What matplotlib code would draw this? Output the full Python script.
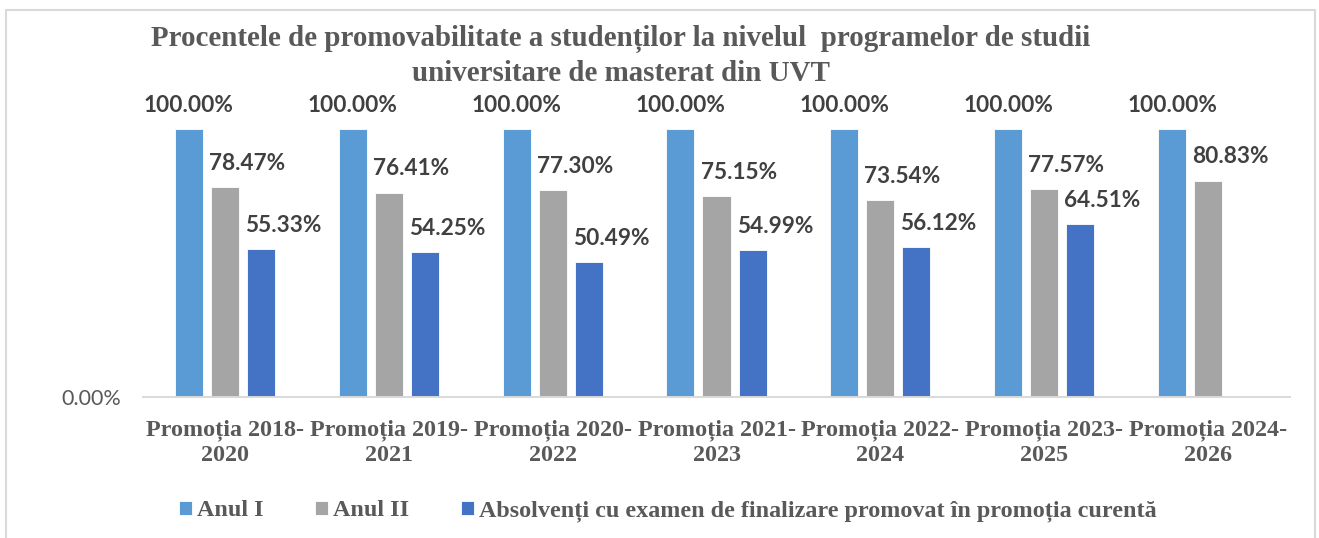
import numpy as np
import matplotlib
matplotlib.use("Agg")
import matplotlib.pyplot as plt
from matplotlib.patches import Rectangle

# ---- data ----
categories = ["Promoția 2018-\n2020", "Promoția 2019-\n2021", "Promoția 2020-\n2022",
              "Promoția 2021-\n2023", "Promoția 2022-\n2024", "Promoția 2023-\n2025",
              "Promoția 2024-\n2026"]
series_names = ["Anul I", "Anul II",
                "Absolvenți cu examen de finalizare promovat în promoția curentă"]
anul_1 = [100.00, 100.00, 100.00, 100.00, 100.00, 100.00, 100.00]
anul_2 = [78.47, 76.41, 77.30, 75.15, 73.54, 77.57, 80.83]
absolventi = [55.33, 54.25, 50.49, 54.99, 56.12, 64.51, np.nan]
title_lines = ["Procentele de promovabilitate a studenților la nivelul  programelor de studii",
               "universitare de masterat din UVT"]

colors = ["#5B9BD5", "#A5A5A5", "#4472C4"]
serif = "Liberation Serif"
sans = "Lato"
txt_gray = "#595959"
lab_gray = "#404040"

W, H = 1319, 538
fig = plt.figure(figsize=(W / 100, H / 100), dpi=100)
ax = fig.add_axes([143 / W, 1 - 397.3 / H, (1290 - 143) / W, (397.3 - 129.3) / H])

x = np.arange(len(categories))
step = 0.22
width = 0.171
all_series = [anul_1, anul_2, absolventi]
label_dx = [0, 16, 16]  # points
for i, (vals, col, name) in enumerate(zip(all_series, colors, series_names)):
    pos = x + (i - 1) * step
    v = np.array(vals, dtype=float)
    ax.bar(pos, v, width=width, color=col, label=name, edgecolor="white", linewidth=0.6)
    for px, val in zip(pos, v):
        if np.isnan(val):
            continue
        ax.annotate(f"{val:.2f}%", xy=(px, val), xytext=(label_dx[i], 12.5),
                    textcoords="offset points", ha="center", va="baseline",
                    fontsize=16.3, fontweight="bold", family=sans, color=lab_gray,
                    annotation_clip=False)

ax.set_xlim(-0.5, len(categories) - 0.5)
ax.set_ylim(0, 100)
ax.set_yticks([0])
ax.set_yticklabels(["0.00%"], family=sans, fontsize=15.5, color=txt_gray)
ax.set_xticks(x)
ax.set_xticklabels(categories, family=serif, fontweight="bold", fontsize=17.4,
                   color=txt_gray, linespacing=1.25)
ax.tick_params(axis="x", length=0, pad=16)
ax.tick_params(axis="y", length=0, pad=16)
for s in ["top", "right", "left"]:
    ax.spines[s].set_visible(False)
ax.spines["bottom"].set_color("#D9D9D9")
ax.spines["bottom"].set_linewidth(1.4)

fig.text(621 / W, 1 - 46 / H, title_lines[0], ha="center", va="baseline",
         family=serif, fontweight="bold", fontsize=20.9, color=txt_gray)
fig.text(621 / W, 1 - 81 / H, title_lines[1], ha="center", va="baseline",
         family=serif, fontweight="bold", fontsize=20.9, color=txt_gray)

leg = fig.legend(loc="center", bbox_to_anchor=(668 / W, 1 - 511 / H), ncol=3,
                 frameon=False, prop={"family": serif, "weight": "bold", "size": 17.4},
                 handlelength=0.52, handleheight=0.52, handletextpad=0.22,
                 columnspacing=2.15)
for t in leg.get_texts():
    t.set_color(txt_gray)

fig.patches.append(Rectangle((6 / W, -0.01), (1315 - 6) / W, (1 - 10 / H) + 0.01,
                             transform=fig.transFigure, fill=False,
                             edgecolor="#D9D9D9", linewidth=1.5))

fig.savefig("out.png", dpi=100)
